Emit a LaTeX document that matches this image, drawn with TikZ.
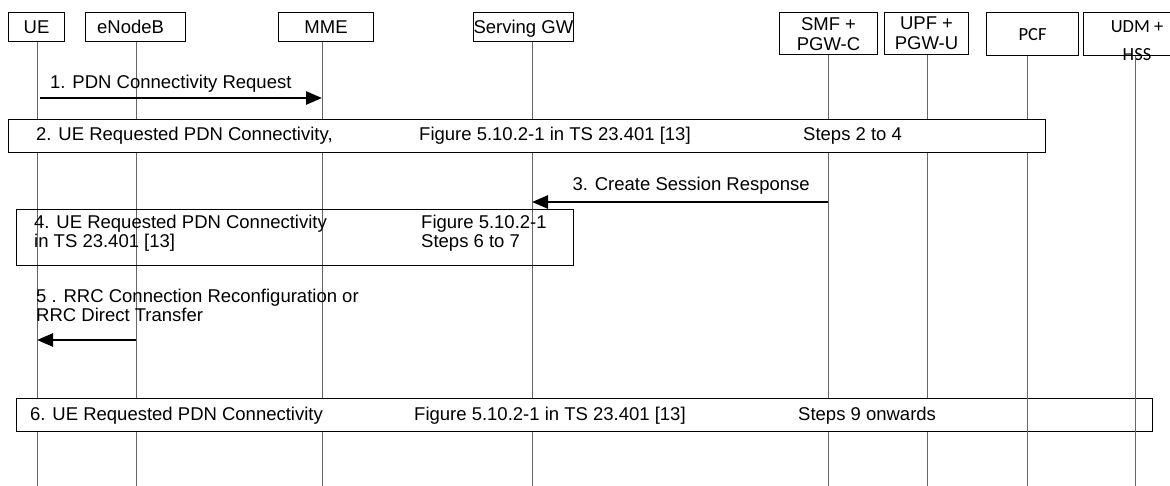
\documentclass[tikz,border=0pt]{standalone}
\usepackage{fontspec}
\setmainfont{Liberation Sans}
\newfontfamily\calibrifont{Carlito}
\usetikzlibrary{arrows.meta,positioning}

\begin{document}
\begin{tikzpicture}[x=1pt, y=-1pt,
    entity/.style={draw, line width=1.1pt, anchor=north west, inner sep=0pt, align=center, text depth=0pt, font=\fontsize{18.5}{20}\selectfont},
    life/.style={draw=black!60, line width=1pt},
    msg/.style={-{Triangle[length=16pt, width=13pt]}, line width=2.6pt},
    proc/.style={draw, line width=1.3pt, anchor=north west, inner sep=0pt},
    lbl/.style={anchor=base west, inner sep=0pt, font=\fontsize{18.5}{20}\selectfont}
]
\useasboundingbox (0,0) rectangle (1170,486);

% entities
\node[entity, minimum width=56, minimum height=29] (ue) at (8,12) {UE};
\node[entity, minimum width=100, minimum height=29] (enb) at (85,12) {eNodeB\hspace*{10pt}};
\node[entity, minimum width=95, minimum height=29] (mme) at (278,12) {MME};
\node[entity, minimum width=97, minimum height=29] (sgw) at (473,12) {Serving GW};
\node[entity, minimum width=98, minimum height=42] (smf) at (779,12) {SMF +\\PGW-C};
\node[entity, minimum width=84, minimum height=42] (upf) at (884,12) {UPF +\\PGW-U};
\node[entity, minimum width=92, minimum height=43, font=\calibrifont\fontsize{18.5}{20}\selectfont] (pcf) at (986,12) {PCF};
\node[entity, minimum width=108, minimum height=43] (udm) at (1083,12) {};
\node[anchor=north, inner sep=0pt, align=center, font=\calibrifont\fontsize{18.5}{28}\selectfont] (udmtxt) at (1137,20) {UDM +\\HSS};

% lifelines
\foreach \n/\x in {ue/37, enb/136, mme/322, sgw/532, smf/828, upf/927, pcf/1027, udm/1135}
    \coordinate (\n-end) at (\x,486);
\foreach \n in {ue, enb, mme, sgw, smf, upf}
    \draw[life] (\n.south -| \n-end) -- (\n-end);

% step 6
\node[proc, fill=white, minimum width=1136, minimum height=33] (step6) at (16,398) {};
\node[lbl] (s6a) at (30,420) {6. UE Requested PDN Connectivity};
\node[lbl] (s6b) at (414,420) {Figure 5.10.2-1 in TS 23.401 [13]};
\node[lbl] (s6c) at (798,420) {Steps 9 onwards};
\foreach \n in {pcf, udm}
    \draw[life] (\n.south -| \n-end) -- (\n-end);

% step 2
\node[proc, fill=white, minimum width=1037, minimum height=33] (step2) at (8,119) {};
\node[lbl] (s2a) at (36,141) {2. UE Requested PDN Connectivity,};
\node[lbl] (s2b) at (419,141) {Figure 5.10.2-1 in TS 23.401 [13]};
\node[lbl] (s2c) at (803,141) {Steps 2 to 4};

% step 4
\node[proc, minimum width=557, minimum height=56] (step4) at (16,209) {};
\node[lbl] (s4a) at (34,229) {4. UE Requested PDN Connectivity};
\node[lbl] (s4b) at (34,248) {in TS 23.401 [13]};
\node[lbl] (s4c) at (421,229) {Figure 5.10.2-1};
\node[lbl] (s4d) at (421,248) {Steps 6 to 7};

% messages
\coordinate (y1) at (0,98);
\coordinate (y3) at (0,202);
\coordinate (y5) at (0,340);
\node[lbl] (m1) at (50,89) {1. PDN Connectivity Request};
\draw[msg] ([xshift=3pt]ue-end |- y1) -- (mme-end |- y1);
\node[lbl, anchor=base east] (m3) at (810,191) {3. Create Session Response};
\draw[msg] (smf-end |- y3) -- (sgw-end |- y3);
\node[lbl] (m5a) at (36,303) {5 . RRC Connection Reconfiguration or};
\node[lbl] (m5b) at (36,322) {RRC Direct Transfer};
\draw[msg] (enb-end |- y5) -- (ue-end |- y5);
\end{tikzpicture}
\end{document}
